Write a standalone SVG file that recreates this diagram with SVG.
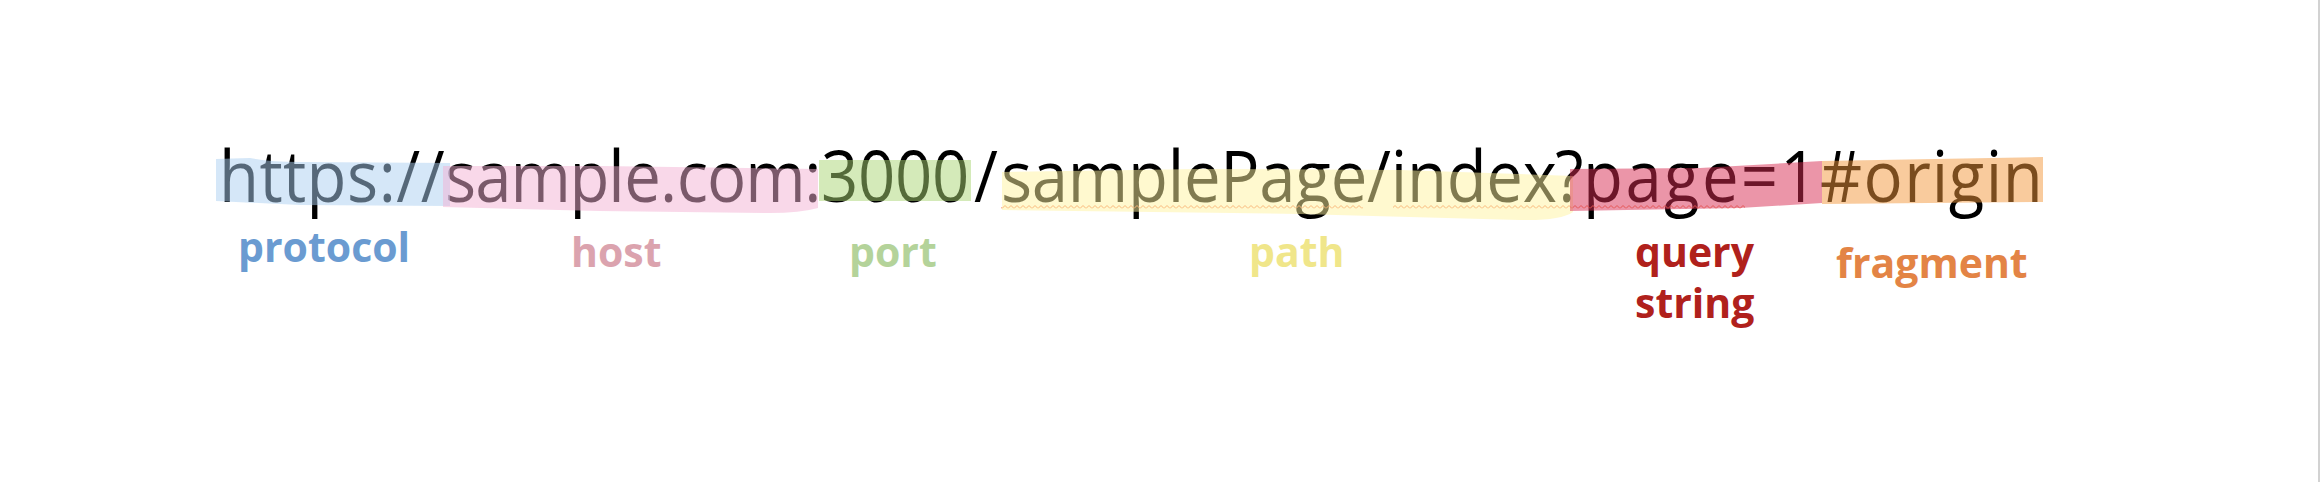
<svg xmlns="http://www.w3.org/2000/svg" width="2320" height="482" viewBox="0 0 2320 482">
  <defs>
    <style>
      .url { font-family: "Open Sans", "Noto Sans", "Liberation Sans", sans-serif; font-size: 71px; fill: #000000; }
      .lbl { font-family: "Open Sans", "Noto Sans", "Liberation Sans", sans-serif; font-size: 41px; font-weight: 700; }
      .hl { opacity: 0.5; }
    </style>
    <pattern id="squiggle" patternUnits="userSpaceOnUse" x="0" y="205" width="6" height="4">
      <path d="M0,3.5 L3,0.5 L6,3.5" fill="none" stroke="#f07a52" stroke-width="1"/>
    </pattern>
  </defs>
  <rect x="0" y="0" width="2320" height="482" fill="#ffffff"/>
  <rect x="2318" y="0" width="2" height="482" fill="#d2d2d2"/>

  <g id="url-text">
    <text class="url" transform="scale(0.92 1)" y="202" x="238.0 282.2 307.7 333.1 377.2 411.6 430.8 457.3 483.7 516.6 554.9 619.0 661.2 678.6 717.3 735.6 768.4 810.0 874.1 892.4 932.6 972.8 1013.0 1058.7 1088.0 1121.6 1160.7 1226.1 1269.2 1287.0 1326.4 1368.8 1407.9 1446.4 1485.8 1511.6 1529.4 1572.6 1615.6 1655.1 1690.5 1720.7 1766.8 1808.7 1849.9 1892.2 1935.2 1978.3 2025.6 2069.8 2099.7 2118.2 2158.3 2176.8">https://sample.com:3000/samplePage/index?page=1#origin</text>
  </g>

  <g id="spellcheck">
    <rect x="1001" y="205" width="362" height="4" fill="url(#squiggle)"/>
    <rect x="1393" y="205" width="352" height="4" fill="url(#squiggle)"/>
  </g>

  <g id="protocol">
    <path class="hl" fill="#abd0f2" d="M216,159 L250,158 Q270,162 300,162 L450,163 L450,206 L300,205 L216,201 Z"/>
    <text class="lbl" x="238" y="262" fill="#6a9bd1">protocol</text>
  </g>

  <g id="host">
    <path class="hl" fill="#f4b2d4" d="M443,166 L600,166 L818,169 L818,208 Q800,213 770,213 L600,211 L443,207 Z"/>
    <text class="lbl" x="571" y="267" fill="#dba3ae">host</text>
  </g>

  <g id="port">
    <rect class="hl" fill="#aad574" x="819" y="160" width="152" height="41"/>
    <text class="lbl" x="849" y="267" fill="#b4d39a">port</text>
  </g>

  <g id="path">
    <path class="hl" fill="#fff4a0" d="M1002,172 L1200,169 L1400,170 L1573,176 L1573,212 Q1560,221 1520,220 L1300,214 L1002,210 Z"/>
    <text class="lbl" x="1249" y="267" fill="#f0e68a">path</text>
  </g>

  <g id="query-string">
    <path class="hl" fill="#d82c52" d="M1570,169 L1700,168 L1822,161 L1822,203 L1740,208 L1570,211 Z"/>
    <text class="lbl" x="1635" y="267" fill="#b0211c">query</text>
    <text class="lbl" x="1635" y="318" fill="#b0211c">string</text>
  </g>

  <g id="fragment">
    <path class="hl" fill="#f4983c" d="M1822,161 L2043,157 L2043,202 L1822,204 Z"/>
    <text class="lbl" x="1836" y="278" fill="#e38445">fragment</text>
  </g>
</svg>
